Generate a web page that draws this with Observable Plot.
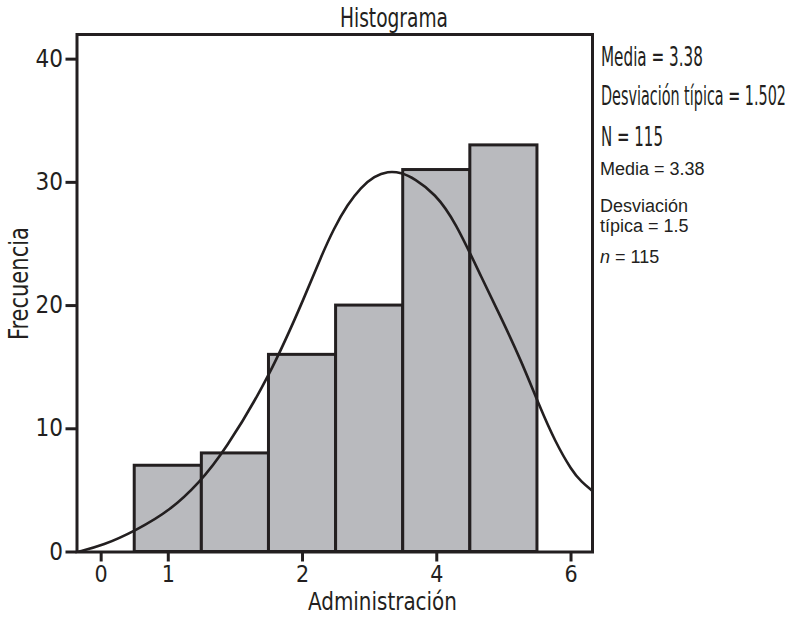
<!DOCTYPE html>
<html><head><meta charset="utf-8">
<script src="https://cdn.jsdelivr.net/npm/d3@7"></script>
<script src="https://cdn.jsdelivr.net/npm/@observablehq/plot@0.6"></script>
<style>
body{margin:0;background:#fff}
#chart svg{display:block}
</style>
</head><body><div id="chart"></div>
<script>
// Histogram bins (bin edges) and frequencies
const binStart = [0.5, 1.5, 2.5, 3.5, 4.5, 5.5];
const binEnd   = [1.5, 2.5, 3.5, 4.5, 5.5, 6.5];
const counts   = [7, 8, 16, 20, 31, 33];

// Normal curve
const curveX = [-0.36, 0.03, 0.52, 1.03, 1.47, 1.83, 2.51, 3.07, 3.27, 3.47, 3.67, 3.87, 4.07, 4.27, 4.47, 4.67, 4.97, 5.27, 5.69, 5.96, 6.26, 6.54, 6.76, 7.01, 7.16, 7.31];
const curveY = [0, 0.53, 1.75, 3.37, 5.67, 8.11, 14.2, 21.2, 23.9, 26.3, 28.2, 29.6, 30.5, 30.9, 30.8, 30.3, 29.1, 26.9, 22.0, 19.0, 15.5, 11.7, 9.0, 6.6, 5.66, 5.0];

// Axis ticks
const xTickValues = [0, 1, 3, 5, 7];
const xTickLabels = ["0", "1", "2", "4", "6"];
const yTickValues = [0, 10, 20, 30, 40];

// Texts
const titleText = "Histograma";
const xLabel = "Administración";
const yLabel = "Frecuencia";
const statsBig = ["Media = 3.38", "Desviación típica = 1.502", "N = 115"];
const statsSmall = ["Media = 3.38", "Desviación", "típica = 1.5"];
const nSmall = "115";

const bars = counts.map((c, i) => ({x1: binStart[i], x2: binEnd[i], y: c}));
const curve = curveX.map((x, i) => ({x, y: curveY[i]}));

const ink = "#231f20";
const condensed = "'Liberation Sans Narrow','DejaVu Sans Condensed','Arial Narrow',sans-serif";
const plain = "'Liberation Sans',Arial,Helvetica,sans-serif";

const W = 791, H = 617;
const chart = Plot.plot({
  width: W,
  height: H,
  marginLeft: 76.5,
  marginRight: 199,
  marginTop: 34,
  marginBottom: 65.5,
  style: {fontFamily: condensed, color: ink, background: "#fff", overflow: "visible"},
  x: {domain: [-0.36, 7.32]},
  y: {domain: [0, 42]},
  marks: [
    Plot.rectY(bars, {x1: "x1", x2: "x2", y: "y", fill: "#b9babe", stroke: ink, strokeWidth: 3, inset: 0}),
    Plot.line(curve, {x: "x", y: "y", stroke: ink, strokeWidth: 2.6, curve: "basis", clip: true}),
    Plot.frame({stroke: ink, strokeWidth: 3}),
    Plot.axisX({ticks: xTickValues, tickFormat: d => xTickLabels[xTickValues.indexOf(d)], tickSize: 10, tickPadding: 4, strokeWidth: 3, fontSize: 23, label: null}),
    Plot.axisY({ticks: yTickValues, tickSize: 11, tickPadding: 3, strokeWidth: 3, fontSize: 24, label: null})
  ]
});
document.getElementById("chart").appendChild(chart);

const svg = d3.select(chart);
const g = svg.append("g").attr("fill", ink).attr("text-anchor", "start");
// condensed text: natural glyphs squeezed horizontally to the reference width
function addText(sel, t, x, y, size, len, rotate) {
  const wrap = sel.append("g");
  const el = wrap.append("text").attr("x", 0).attr("y", 0)
    .style("font-family", condensed).style("font-size", size + "px").text(t);
  const natural = el.node().getComputedTextLength();
  const sx = len ? len / natural : 1;
  wrap.attr("transform", `translate(${x},${y})${rotate ? " rotate(-90)" : ""} scale(${sx},1)`);
  return el;
}
addText(g, titleText, 340, 27, 27, 108);
addText(g, xLabel, 308, 610, 25, 149);
addText(g, yLabel, 28, 340, 26, 113, true);

const bigY = [66, 105, 146];
const bigLen = [102, 185, 62];
statsBig.forEach((t, i) => addText(g, t, 601, bigY[i], 26, bigLen[i]));
const smallY = [175, 211.5, 231.5];
statsSmall.forEach((t, i) => g.append("text").attr("x", 600).attr("y", smallY[i])
  .style("font-family", plain).style("font-size", "18px").text(t));
const nt = g.append("text").attr("x", 600).attr("y", 263)
  .style("font-family", plain).style("font-size", "18px");
nt.append("tspan").style("font-style", "italic").text("n");
nt.append("tspan").text(" = " + nSmall);
</script>
</body></html>
